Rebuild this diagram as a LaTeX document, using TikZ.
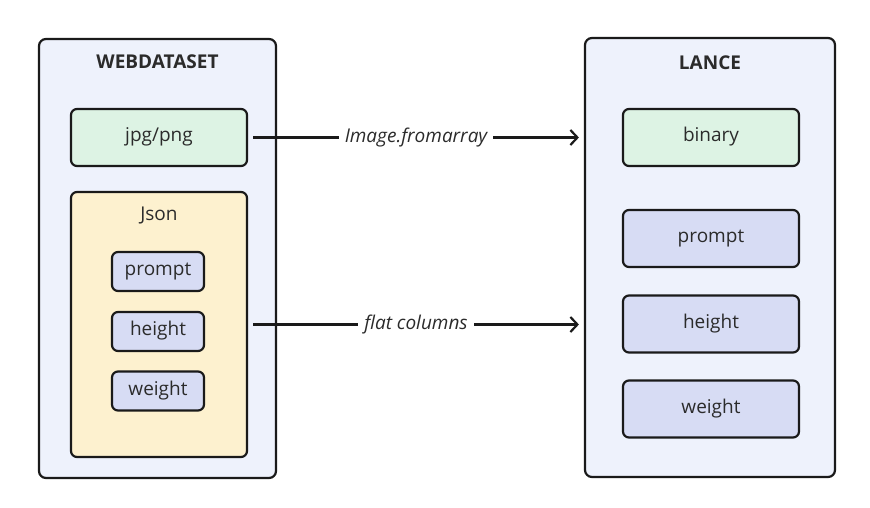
\documentclass[tikz,border=0pt]{standalone}
\usepackage{fontspec}
\setmainfont{Open Sans}
\usetikzlibrary{arrows.meta}
\definecolor{contfill}{HTML}{EEF2FC}
\definecolor{greenfill}{HTML}{DDF3E4}
\definecolor{yellowfill}{HTML}{FDF1CF}
\definecolor{lavfill}{HTML}{D7DCF4}
\definecolor{edge}{HTML}{1A1A1A}
\definecolor{txt}{HTML}{2B2B2B}
\begin{document}
\begin{tikzpicture}[x=1pt,y=-1pt,
  font=\fontsize{19}{22}\selectfont, text=txt,
  container/.style={draw=edge, line width=2.2pt, fill=contfill, rounded corners=7pt},
  tx/.style={inner sep=0pt, text height=1.12em, text depth=0.3em},
  gbox/.style={draw=edge, line width=2.2pt, fill=greenfill, rounded corners=6pt, tx},
  ybox/.style={draw=edge, line width=2.2pt, fill=yellowfill, rounded corners=6pt},
  lbox/.style={draw=edge, line width=2.2pt, fill=lavfill, rounded corners=6pt, tx},
  conn/.style={draw=edge, line width=2.2pt, -{Straight Barb[length=7pt,width=15pt,line width=2.2pt]}, shorten <=5pt, shorten >=5pt},
  lab/.style={fill=white, inner sep=6pt, font=\fontsize{19}{22}\selectfont\itshape},
  ttl/.style={font=\fontsize{19}{22}\selectfont\bfseries}
]
\useasboundingbox (0,0) rectangle (870,508);
% containers
\node (wds) at (157.5,258.5) [container, minimum width=237pt, minimum height=439pt, inner sep=0pt] {};
\node[ttl] (wdstitle) at (157.5,61.5) {WEBDATASET};
\node (lance) at (710,257.5) [container, minimum width=250pt, minimum height=439pt, inner sep=0pt] {};
\node[ttl] (lancetitle) at (710,62.5) {LANCE};
% left side
\node (jpg) at (159,137.5) [gbox, minimum width=176pt, minimum height=57pt] {jpg/png};
\node (json) at (159,324.5) [ybox, minimum width=176pt, minimum height=265pt, inner sep=0pt] {};
\node (jsontitle) at (159,216) {Json};
\node (lprompt) at (158,271.5) [lbox, minimum width=92pt, minimum height=39pt] {prompt};
\node (lheight) at (158,331.5) [lbox, minimum width=92pt, minimum height=39pt] {height};
\node (lweight) at (158,391) [lbox, minimum width=92pt, minimum height=39pt] {weight};
% right side
\node (binary) at (711,137.5) [gbox, minimum width=176pt, minimum height=57pt] {binary};
\node (rprompt) at (711,238.5) [lbox, minimum width=176pt, minimum height=57pt] {prompt};
\node (rheight) at (711,324) [lbox, minimum width=176pt, minimum height=57pt] {height};
\node (rweight) at (711,409) [lbox, minimum width=176pt, minimum height=57pt] {weight};
% connectors
\draw[conn] (jpg.east) -- node[lab] {Image.fromarray} (jpg.east -| lance.west);
\draw[conn] (json.east) -- node[lab] {flat columns} (json.east -| lance.west);
\end{tikzpicture}
\end{document}
